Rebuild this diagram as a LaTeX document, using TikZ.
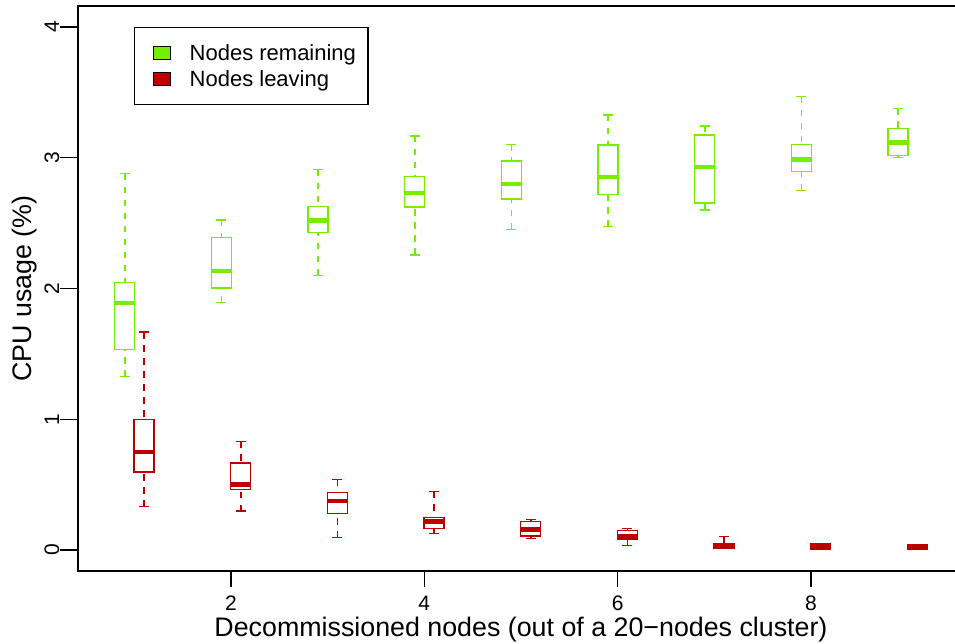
\documentclass[tikz,border=0pt]{standalone}
\usepackage{fontspec}
\setmainfont{Liberation Sans}
\definecolor{grn}{HTML}{76EE00}
\definecolor{rd}{HTML}{BB0000}
\tikzset{
  axisline/.style={line width=2pt, black},
  boxline/.style={line width=1.5pt},
  whisk/.style={line width=1.6pt, dash pattern=on 6.5pt off 6.5pt},
  medline/.style={line width=4.5pt},
  ticklab/.style={font=\fontsize{21}{24}\selectfont, inner sep=0pt},
  axlab/.style={font=\fontsize{26.8}{30}\selectfont, inner sep=0pt},
  leglab/.style={font=\fontsize{22}{26}\selectfont, inner sep=0pt, anchor=base west},
}
% #1 colour, #2 centre x, #3 low whisker, #4 q1, #5 median, #6 q3, #7 high whisker
\newcommand\boxplt[7]{%
  \draw[#1, whisk] (#2,#7) -- (#2,#6);
  \draw[#1, whisk] (#2,#3) -- (#2,#4);
  \draw[#1, boxline] ({#2-5},#7) -- ({#2+5},#7);
  \draw[#1, boxline] ({#2-5},#3) -- ({#2+5},#3);
  \draw[#1, boxline, fill=white] ({#2-10},#6) rectangle ({#2+10},#4);
  \draw[#1, medline] ({#2-10},#5) -- ({#2+10},#5);
}
\begin{document}
\begin{tikzpicture}[x=1pt, y=-1pt]
\useasboundingbox (0,0) rectangle (955,644);
% frame
\draw[axisline] (956,6) -- (78,6) -- (78,571) -- (956,571);
% y ticks
\foreach \v/\yy in {0/550, 1/419.25, 2/288.5, 3/157.75, 4/27} {
  \draw[line width=1.5pt] (60,\yy) -- (78,\yy);
  \node[ticklab, rotate=90, anchor=base] (yt\v) at (59,\yy) {\v};
}
% x ticks
\foreach \v/\xx in {2/231, 4/424.3, 6/617.7, 8/811} {
  \draw[line width=1.5pt] (\xx,571) -- (\xx,587);
  \node[ticklab, anchor=base] (xt\v) at (\xx,610.5) {\v};
}
% axis labels
\node[axlab, anchor=base] (xlab) at (521,636) {Decommissioned nodes (out of a 20−nodes cluster)};
\node[axlab, anchor=base, rotate=90] (ylab) at (31.5,288.5) {CPU usage (\%)};
% green boxes
\boxplt{grn}{124.7}{376.7}{349.3}{303}{282.7}{173.7}
\boxplt{grn}{221.3}{302.3}{288}{271}{237.3}{220}
\boxplt{grn}{318}{275.3}{232.7}{220.3}{206.3}{169.7}
\boxplt{grn}{414.7}{255}{207}{193}{176.3}{136}
\boxplt{grn}{511.3}{229.3}{199}{184}{161}{144.3}
\boxplt{grn}{608}{226.7}{194.7}{177}{145}{115}
\boxplt{grn}{704.7}{210}{203}{167}{135}{126}
\boxplt{grn}{801.3}{190.3}{171.3}{159.7}{144.7}{96.7}
\boxplt{grn}{898}{157.3}{155.3}{142.7}{128.7}{108.3}
% red boxes
\boxplt{rd}{144}{506.7}{472}{452}{419.3}{332}
\boxplt{rd}{240.7}{511}{489.7}{484.7}{463}{441.3}
\boxplt{rd}{337.3}{537.7}{513.3}{501}{492.7}{479.7}
\boxplt{rd}{434}{533.7}{528.3}{521.3}{517.3}{491.3}
\boxplt{rd}{530.7}{538.3}{536}{529.3}{521.7}{519.7}
\boxplt{rd}{627.3}{545.7}{539.3}{536.5}{530.3}{528.3}
\boxplt{rd}{724}{548.7}{548.7}{546.3}{544}{536.3}
\boxplt{rd}{820.7}{549}{549}{546.5}{544}{544}
\boxplt{rd}{917.3}{549.5}{549.5}{547}{544.5}{544.5}
% legend
\draw[line width=1.5pt, fill=white] (134.3,27.3) rectangle (368,104.7);
\draw[line width=1pt, fill=grn] (153.7,46.7) rectangle (170.3,60);
\draw[line width=1pt, fill=rd] (153.7,72.7) rectangle (170.3,86);
\node[leglab] (leg1) at (189.5,60.7) {Nodes remaining};
\node[leglab] (leg2) at (189.5,87) {Nodes leaving};
\end{tikzpicture}
\end{document}
